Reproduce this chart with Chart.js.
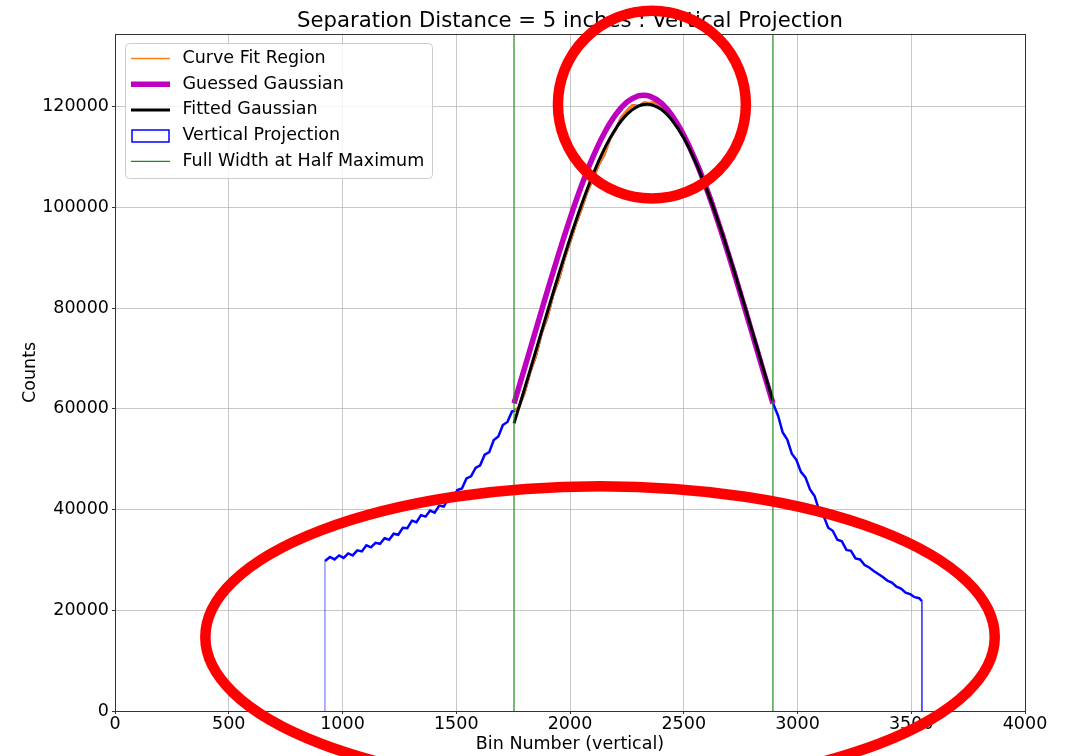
<!DOCTYPE html>
<html>
<head>
<meta charset="utf-8">
<title>Vertical Projection</title>
<script src="https://cdn.jsdelivr.net/npm/chart.js@4.4.0/dist/chart.umd.min.js"></script>
<style>
	body{margin:0;background:#fff;}
	#wrap{width:1076px;height:756px;}
</style>
</head>
<body>
<div id="wrap"><canvas id="projection" width="1076" height="756"></canvas></div>
<script>
//data


// projection left of the fit region
const leftBins = [923,945,965,985,1005,1025,1045,1065,1085,1105,1125,1145,1165,1185,1205,1225,1245,1265,1285,1305,1325,1345,1365,1385,1405,1425,1445,1465,1485,1505,1525,1545,1565,1585,1605,1625,1645,1665,1685,1705,1725,1745];
const leftCounts = [29800,30600,30100,30900,30400,31300,30900,31900,31700,32900,32500,33400,33200,34300,34000,35200,35000,36400,36300,37800,37500,38900,38600,39800,39400,40800,40600,42100,42200,43900,44200,46200,46600,48300,48800,50900,51400,53800,54500,56800,57400,59500];

// curve fit region (between the FWHM bins)
const fitBins = [1755,1775,1800,1825,1850,1875,1900,1925,1950,1975,2000,2025,2050,2075,2100,2125,2150,2175,2200,2225,2250,2275,2300,2325,2350,2375,2400,2425,2450,2475,2500,2525,2550,2575,2600,2625,2650,2675,2700,2725,2750,2775,2800,2825,2850,2875,2890];
const fitCounts = [59600,60300,63200,67300,70500,75000,78100,82500,85600,89700,93100,96600,99700,103000,105600,108400,110400,113500,115400,117900,119200,120300,120100,120800,120700,120900,120000,119500,117800,116700,114400,112600,109800,107500,104200,101500,97700,94600,90700,87400,83300,79900,75600,72200,67900,64200,61600];

// projection right of the fit region
const rightBins = [2895,2915,2935,2955,2975,2995,3015,3035,3055,3075,3095,3115,3135,3155,3175,3195,3215,3235,3255,3275,3295,3315,3335,3355,3375,3395,3415,3435,3455,3475,3495,3515,3535,3547];
const rightCounts = [60800,58600,55300,53900,51100,49900,47500,46400,44000,42700,39900,38700,36400,35800,34000,33700,32000,31800,30300,30100,29000,28500,27800,27200,26600,25900,25500,24700,24300,23500,23200,22600,22400,21800];

const guessedBins = [1754,1800,1850,1900,1950,2000,2050,2100,2150,2200,2250,2300,2323,2350,2400,2450,2500,2550,2600,2650,2700,2750,2800,2850,2892];
const guessedCounts = [61100,68050,75720,83350,90760,97800,104250,109940,114700,118400,120910,122160,122300,122110,120760,118140,114360,109510,103760,97250,90180,82730,75100,67440,61100];

const fittedBins = [1754,1800,1850,1900,1950,2000,2050,2100,2150,2200,2250,2300,2338,2400,2450,2500,2550,2600,2650,2700,2750,2800,2850,2892];
const fittedCounts = [57130,63960,71570,79190,86680,93850,100500,106450,111540,115580,118480,120120,120500,119490,117230,113780,109210,103690,97390,90460,83120,75530,67890,61560];

const fwhmBins = [1754,2892];

const xTicks = [0,500,1000,1500,2000,2500,3000,3500,4000];
const yTicks = [0,20000,40000,60000,80000,100000,120000];
const xMax = 4000;
const yMax = 134500;


function toPoints(bins, counts){
	return bins.map(function(b, i){
		return {x:b, y:counts[i]};
	});
}

// whole projection, dropping to zero at both ends
const projection = [{x:leftBins[0], y:0}].concat(
	toPoints(leftBins, leftCounts),
	toPoints(fitBins, fitCounts),
	toPoints(rightBins, rightCounts),
	[{x:rightBins[rightBins.length-1], y:0}]
);


//plugins


// frame round the plot
const spines = {
	id:'spines',
	afterDatasetsDraw(chart){
		const c = chart.ctx;
		const a = chart.chartArea;
		c.save();
		c.strokeStyle = '#333';
		c.lineWidth = 1;
		c.strokeRect(Math.round(a.left)+0.5, Math.round(a.top)+0.5, Math.round(a.right-a.left), Math.round(a.bottom-a.top));
		c.restore();
	}
};

// legend box in the top left corner of the plot
const legendBox = {
	id:'legendBox',
	afterDraw(chart){
		const c = chart.ctx;
		const a = chart.chartArea;
		const items = chart.data.datasets.filter(function(ds){ return ds.label; });
		const left = Math.round(a.left) + 10.5;
		const top = Math.round(a.top) + 9.5;
		c.save();
		c.font = '17.5px "DejaVu Sans"';
		let textW = 0;
		items.forEach(function(ds){
			textW = Math.max(textW, c.measureText(ds.label).width);
		});
		c.beginPath();
		c.roundRect(left, top, Math.round(57 + textW + 8), Math.round(items.length*25.7 + 6.5), 4);
		c.fillStyle = 'rgba(255,255,255,0.8)';
		c.fill();
		c.strokeStyle = '#cccccc';
		c.lineWidth = 1;
		c.stroke();

		items.forEach(function(ds, i){
			const y = top + 15 + i*25.7;
			if(ds.pointStyle == 'rect'){
				c.strokeStyle = ds.borderColor;
				c.lineWidth = 1.5;
				c.strokeRect(left+6.5, Math.round(y)-6, 37, 12);
			}else{
				c.strokeStyle = ds.borderColor;
				c.lineWidth = ds.legendWidth || ds.borderWidth;
				c.beginPath();
				c.moveTo(left+5.5, y);
				c.lineTo(left+44.5, y);
				c.stroke();
			}
			c.fillStyle = '#000';
			c.textBaseline = 'middle';
			c.fillText(ds.label, left+57, y);
		});
		c.restore();
	}
};

// red rings drawn over the chart, centres and radii in data units
const marks = [
	{bin:2360, count:120430, rBin:413, rCount:18650},
	{bin:2132, count:14680, rBin:1735, rCount:29960}
];

const ringPlugin = {
	id:'rings',
	afterDraw(chart){
		const c = chart.ctx;
		const xs = chart.scales.x;
		const ys = chart.scales.y;
		c.save();
		c.strokeStyle = '#ff0000';
		c.lineWidth = 10.5;
		marks.forEach(function(m){
			const cx = xs.getPixelForValue(m.bin);
			const cy = ys.getPixelForValue(m.count);
			const rx = xs.getPixelForValue(m.bin + m.rBin) - cx;
			const ry = cy - ys.getPixelForValue(m.count + m.rCount);
			c.beginPath();
			c.ellipse(cx, cy, rx, ry, 0, 0, Math.PI*2);
			c.stroke();
		});
		c.restore();
	}
};


//chart


Chart.defaults.font.family = '"DejaVu Sans"';
Chart.defaults.font.size = 17.5;
Chart.defaults.color = '#000';

const gridColor = 'rgba(176,176,176,0.7)';
let ctx1 = document.getElementById('projection');

const projChart = new Chart(ctx1, {
	type:'line',
	data:{
		datasets:[{
			label:'Curve Fit Region',
			data:toPoints(fitBins, fitCounts),
			borderColor:'#ff7f0e',
			borderWidth:2.5,
			legendWidth:1.5,
			order:4
		},{
			label:'Guessed Gaussian',
			data:toPoints(guessedBins, guessedCounts),
			borderColor:'#bf00bf',
			borderWidth:5.5,
			cubicInterpolationMode:'monotone',
			order:3
		},{
			label:'Fitted Gaussian',
			data:toPoints(fittedBins, fittedCounts),
			borderColor:'#000000',
			borderWidth:3,
			cubicInterpolationMode:'monotone',
			order:2
		},{
			label:'Vertical Projection',
			data:projection,
			borderColor:'#0000ff',
			borderWidth:2.5,
			pointStyle:'rect',
			order:5,
			segment:{
				// the drops to zero are thin
				borderColor:function(s){ return s.p0.x == s.p1.x ? 'rgba(40,40,255,0.75)' : undefined; },
				borderWidth:function(s){ return s.p0.x == s.p1.x ? 1 : undefined; }
			}
		},{
			label:'Full Width at Half Maximum',
			data:[{x:fwhmBins[0], y:0},{x:fwhmBins[0], y:yMax}],
			borderColor:'#1f8a1f',
			borderWidth:1.2,
			order:1
		},{
			label:'',
			data:[{x:fwhmBins[1], y:0},{x:fwhmBins[1], y:yMax}],
			borderColor:'#1f8a1f',
			borderWidth:1.2,
			order:1
		}]
	},
	options:{
		responsive:false,
		animation:false,
		devicePixelRatio:1,
		layout:{
			padding:{left:0, right:51, top:0, bottom:0}
		},
		elements:{
			point:{radius:0}
		},
		plugins:{
			legend:{display:false},
			tooltip:{enabled:false},
			title:{
				display:true,
				text:'Separation Distance = 5 inches : Vertical Projection',
				fullSize:false,
				color:'#000',
				font:{size:21.2, weight:'normal'},
				padding:{top:8.3, bottom:0}
			}
		},
		scales:{
			x:{
				type:'linear',
				min:0,
				max:xMax,
				afterBuildTicks:function(s){ s.ticks = xTicks.map(function(v){ return {value:v}; }); },
				ticks:{
					padding:0,
					maxRotation:0,
					autoSkip:false,
					callback:function(v){ return String(v); }
				},
				grid:{color:gridColor, tickColor:'#333', tickLength:3},
				border:{display:false},
				title:{display:true, text:'Bin Number (vertical)', padding:{top:0, bottom:1}},
				afterFit:function(s){ s.height = 45; }
			},
			y:{
				min:0,
				max:yMax,
				afterBuildTicks:function(s){ s.ticks = yTicks.map(function(v){ return {value:v}; }); },
				ticks:{
					padding:3,
					autoSkip:false,
					callback:function(v){ return String(v); }
				},
				grid:{color:gridColor, tickColor:'#333', tickLength:3},
				border:{display:false},
				title:{display:true, text:'Counts', padding:{top:20, bottom:0}},
				afterFit:function(s){ s.width = 115; }
			}
		}
	},
	plugins:[spines, legendBox, ringPlugin]
});
</script>
</body>
</html>
